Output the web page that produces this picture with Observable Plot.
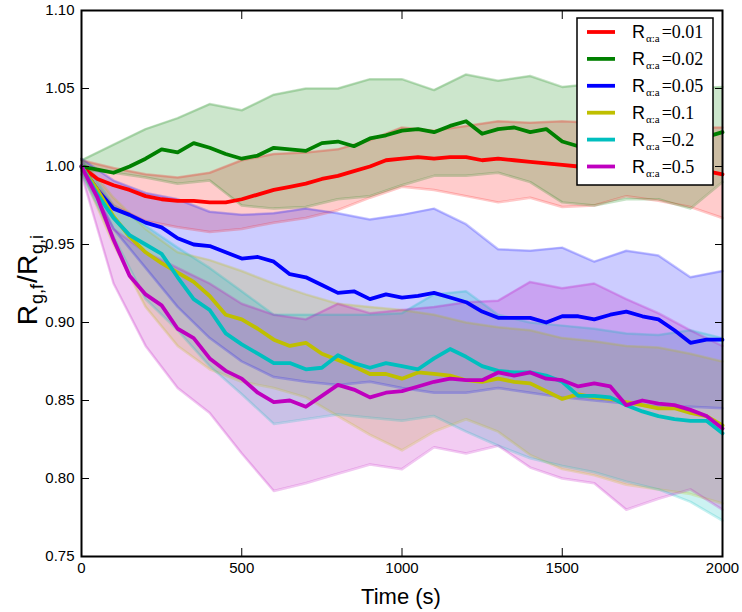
<!DOCTYPE html>
<html><head><meta charset="utf-8">
<script src="https://cdn.jsdelivr.net/npm/d3@7"></script>
<script src="https://cdn.jsdelivr.net/npm/@observablehq/plot@0.6"></script>
<style>body{margin:0;background:#fff}#chart{width:742px;height:612px}</style>
</head><body><div id="chart"></div>
<script>
// sample times (s)
const times = [0,50,100,150,200,250,300,350,400,450,500,550,600,650,700,750,800,850,900,950,1000,1050,1100,1150,1200,1250,1300,1350,1400,1450,1500,1550,1600,1650,1700,1750,1800,1850,1900,1950,2000];
const bandTimes = [0,100,200,300,400,500,600,700,800,900,1000,1100,1200,1300,1400,1500,1600,1700,1800,1900,2000];

const labels = ["0.01","0.02","0.05","0.1","0.2","0.5"];
const colors = ["#ff0000","#008000","#0000ff","#bfbf00","#00bfbf","#bf00bf"];

// mean curves
const mean001 = [1.000,0.992,0.988,0.985,0.981,0.979,0.978,0.978,0.977,0.977,0.979,0.982,0.985,0.987,0.989,0.992,0.994,0.997,1.000,1.004,1.005,1.006,1.005,1.006,1.006,1.004,1.005,1.004,1.003,1.002,1.001,1.000,1.000,1.000,1.001,1.000,1.000,0.999,0.999,0.997,0.995];
const mean002 = [1.000,0.998,0.996,1.000,1.005,1.011,1.009,1.015,1.012,1.008,1.005,1.007,1.012,1.011,1.010,1.015,1.016,1.013,1.018,1.020,1.023,1.024,1.022,1.026,1.029,1.021,1.024,1.025,1.022,1.024,1.016,1.013,1.012,1.013,1.015,1.014,1.016,1.018,1.017,1.019,1.022];
const mean005 = [1.000,0.985,0.973,0.969,0.964,0.961,0.954,0.950,0.949,0.945,0.941,0.942,0.939,0.931,0.929,0.924,0.919,0.920,0.915,0.918,0.916,0.917,0.919,0.916,0.913,0.907,0.903,0.903,0.903,0.900,0.904,0.904,0.902,0.905,0.907,0.904,0.902,0.895,0.887,0.889,0.889];
const mean01 = [1.000,0.985,0.968,0.955,0.945,0.938,0.932,0.926,0.917,0.905,0.902,0.896,0.889,0.885,0.887,0.880,0.876,0.872,0.867,0.867,0.864,0.868,0.867,0.866,0.863,0.862,0.864,0.862,0.861,0.856,0.851,0.854,0.852,0.851,0.849,0.847,0.845,0.845,0.842,0.840,0.834];
const mean02 = [1.000,0.982,0.967,0.956,0.950,0.944,0.929,0.915,0.908,0.893,0.886,0.880,0.874,0.874,0.870,0.871,0.879,0.874,0.871,0.874,0.872,0.870,0.877,0.883,0.878,0.872,0.869,0.868,0.868,0.866,0.862,0.853,0.853,0.852,0.847,0.843,0.840,0.838,0.837,0.837,0.829];
const mean05 = [1.000,0.980,0.953,0.930,0.918,0.911,0.896,0.890,0.877,0.869,0.864,0.855,0.849,0.850,0.846,0.853,0.860,0.857,0.852,0.855,0.856,0.859,0.862,0.864,0.863,0.863,0.868,0.866,0.868,0.864,0.863,0.859,0.861,0.859,0.847,0.850,0.848,0.847,0.844,0.840,0.832];

// band edges (lower / upper)
const lo001 = [0.998,0.975,0.965,0.961,0.958,0.960,0.964,0.967,0.972,0.980,0.987,0.985,0.981,0.977,0.980,0.974,0.975,0.981,0.978,0.974,0.967];
const hi001 = [1.004,0.999,0.995,0.993,0.996,1.004,1.008,1.009,1.011,1.017,1.025,1.023,1.026,1.029,1.028,1.029,1.028,1.027,1.026,1.025,1.025];
const lo002 = [0.998,0.996,0.993,0.989,0.991,0.975,0.973,0.974,0.979,0.981,0.988,0.994,0.994,0.996,0.990,0.977,0.975,0.979,0.979,0.973,0.990];
const hi002 = [1.004,1.014,1.024,1.031,1.040,1.036,1.046,1.050,1.050,1.056,1.056,1.049,1.059,1.055,1.058,1.051,1.053,1.055,1.052,1.050,1.051];
const lo005 = [0.997,0.960,0.935,0.910,0.890,0.875,0.865,0.862,0.860,0.862,0.858,0.855,0.855,0.858,0.855,0.852,0.850,0.848,0.846,0.846,0.845];
const hi005 = [1.005,0.991,0.983,0.979,0.971,0.969,0.970,0.973,0.970,0.966,0.969,0.973,0.963,0.947,0.946,0.948,0.939,0.946,0.943,0.929,0.933];
const lo01 = [0.997,0.950,0.910,0.885,0.870,0.862,0.858,0.852,0.840,0.828,0.818,0.830,0.838,0.830,0.815,0.806,0.802,0.796,0.793,0.790,0.784];
const hi01 = [1.005,0.980,0.960,0.945,0.940,0.933,0.925,0.918,0.912,0.910,0.908,0.905,0.900,0.897,0.895,0.890,0.888,0.885,0.884,0.880,0.875];
const lo02 = [0.995,0.955,0.915,0.895,0.872,0.854,0.835,0.838,0.841,0.839,0.837,0.840,0.830,0.821,0.813,0.808,0.804,0.798,0.793,0.785,0.773];
const hi02 = [1.005,0.975,0.962,0.948,0.935,0.920,0.905,0.905,0.905,0.905,0.906,0.918,0.920,0.905,0.900,0.898,0.896,0.893,0.892,0.895,0.890];
const lo05 = [0.995,0.925,0.885,0.858,0.842,0.816,0.792,0.797,0.803,0.809,0.806,0.820,0.816,0.821,0.807,0.800,0.797,0.780,0.787,0.793,0.780];
const hi05 = [1.005,0.960,0.945,0.935,0.925,0.912,0.905,0.902,0.912,0.906,0.908,0.910,0.913,0.914,0.926,0.922,0.925,0.915,0.906,0.895,0.885];

const xTicks = [0,500,1000,1500,2000];
const yTicks = [0.75,0.80,0.85,0.90,0.95,1.00,1.05,1.10];

const means = [mean001,mean002,mean005,mean01,mean02,mean05];
const los = [lo001,lo002,lo005,lo01,lo02,lo05];
const his = [hi001,hi002,hi005,hi01,hi02,hi05];

const lineRows = labels.flatMap((k,i) => times.map((t,j) => ({t, v: means[i][j], k})));
const bandRows = labels.flatMap((k,i) => bandTimes.map((t,j) => ({t, lo: los[i][j], hi: his[i][j], k})));

const plot = Plot.plot({
  width: 742, height: 612,
  marginLeft: 81, marginRight: 20, marginTop: 10, marginBottom: 56,
  style: {fontFamily: "'Liberation Sans', Arial, sans-serif", fontSize: "15px", background: "#fff", color: "#000"},
  x: {domain: [0, 2000]},
  y: {domain: [0.75, 1.10]},
  color: {domain: labels, range: colors},
  marks: [
    Plot.areaY(bandRows, {x: "t", y1: "lo", y2: "hi", z: "k", fill: "k", fillOpacity: 0.2}),
    Plot.lineY(bandRows, {x: "t", y: "lo", z: "k", stroke: "k", strokeOpacity: 0.22, strokeWidth: 2.5}),
    Plot.lineY(bandRows, {x: "t", y: "hi", z: "k", stroke: "k", strokeOpacity: 0.22, strokeWidth: 2.5}),
    Plot.lineY(lineRows, {x: "t", y: "v", z: "k", stroke: "k", strokeWidth: 3.8}),
    Plot.axisX({anchor: "bottom", ticks: xTicks, tickSize: -8, tickPadding: 14, label: null, tickFormat: d3.format("d")}),
    Plot.axisX({anchor: "top", ticks: xTicks, tickSize: -8, fill: "none", label: null}),
    Plot.axisY({anchor: "left", ticks: yTicks, tickSize: -8, tickPadding: 15, label: null, tickFormat: d3.format(".2f")}),
    Plot.axisY({anchor: "right", ticks: yTicks, tickSize: -8, fill: "none", label: null}),
    Plot.frame({stroke: "#000", strokeWidth: 2})
  ]
});
document.getElementById("chart").appendChild(plot);

const svg = d3.select(plot);
// axis titles
svg.append("text").attr("x", 401).attr("y", 604).attr("text-anchor", "middle")
  .attr("font-family", "'Liberation Sans', Arial, sans-serif").attr("font-size", 22).text("Time (s)");
const yl = svg.append("text").attr("transform", "translate(37,280) rotate(-90)").attr("text-anchor", "middle")
  .attr("font-family", "'Liberation Sans', Arial, sans-serif").attr("font-size", 28);
yl.append("tspan").text("R");
yl.append("tspan").attr("font-size", 18).attr("dy", 6).attr("dx", 1).text("g,f");
yl.append("tspan").attr("dy", -6).attr("dx", 1).text("/R");
yl.append("tspan").attr("font-size", 18).attr("dy", 6).attr("dx", 1).text("g,i");

// legend
const lg = svg.append("g").attr("text-anchor", "start");
lg.append("rect").attr("x", 577).attr("y", 18).attr("width", 136).attr("height", 167)
  .attr("fill", "#fff").attr("stroke", "#000").attr("stroke-width", 1.5);
labels.forEach((k, i) => {
  const y = 32 + i * 26.9;
  lg.append("line").attr("x1", 587).attr("x2", 615).attr("y1", y).attr("y2", y)
    .attr("stroke", colors[i]).attr("stroke-width", 3.8);
  const t = lg.append("text").attr("x", 632).attr("y", y + 6).attr("font-size", 18)
    .attr("text-anchor", "start").attr("font-family", "'Liberation Serif', serif");
  t.append("tspan").attr("font-family", "'Liberation Sans', Arial, sans-serif").text("R");
  t.append("tspan").attr("font-size", 11).attr("dy", 4).attr("dx", 1).text("α:a");
  t.append("tspan").attr("dy", -4).attr("dx", 2).text("=" + k);
});
</script>
</body></html>
